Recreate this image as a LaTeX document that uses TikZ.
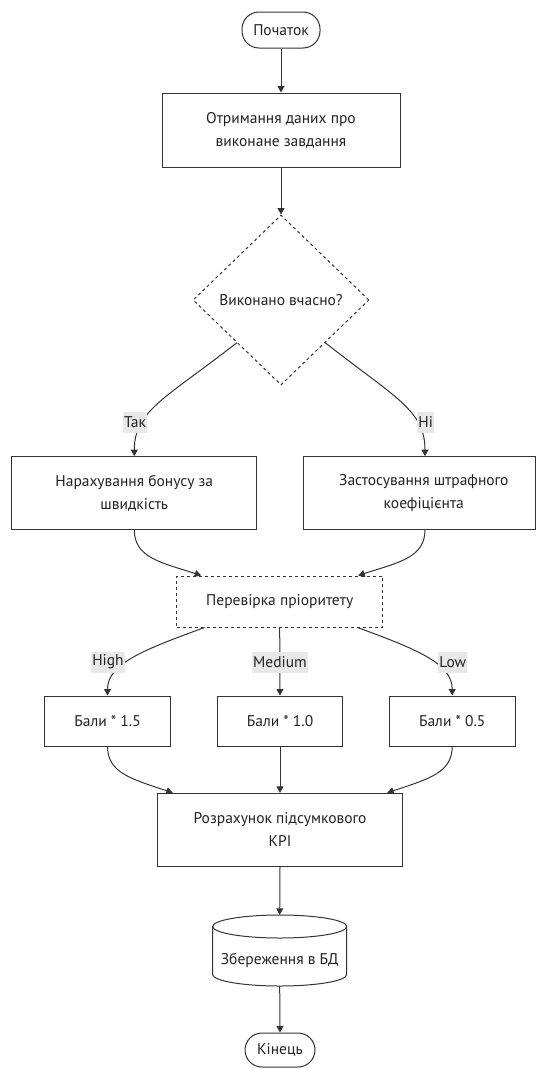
\documentclass[tikz,border=0pt]{standalone}
\usepackage{fontspec}
\setmainfont{PT Sans}
\usetikzlibrary{shapes.geometric,arrows.meta,calc}
\definecolor{ink}{HTML}{333333}
\definecolor{txt}{HTML}{222222}
\definecolor{lbg}{HTML}{E8E8E8}
\begin{document}
\begin{tikzpicture}[x=1pt,y=-1pt,
  every node/.style={font=\fontsize{15.5}{23}\selectfont, text=txt},
  box/.style={draw=ink, line width=1pt, fill=white, rectangle, align=center, inner sep=0pt},
  dbox/.style={box, dash pattern=on 3pt off 3pt},
  term/.style={box, rounded corners=17pt},
  dec/.style={draw=ink, line width=1pt, fill=white, diamond, dash pattern=on 3pt off 3pt,
              inner sep=0pt, minimum width=176pt, minimum height=170pt},
  flow/.style={draw=ink, line width=1pt, -{Triangle[length=6.5pt,width=7pt]}},
  elab/.style={fill=lbg, inner xsep=1pt, inner ysep=0pt, minimum height=21pt},
  cyl/.style={draw=ink, line width=1pt, fill=white}
]
\useasboundingbox (0,0) rectangle (536,1068);

% nodes
\node[term, minimum width=78pt, minimum height=36pt] (start) at (281,30) {Початок};
\node[box, minimum width=238pt, minimum height=74pt] (recv) at (281,130) {Отримання даних про\\виконане завдання};
\node[dec] (dia) at (281,300) {Виконано вчасно?};
\node[box, minimum width=244.7pt, minimum height=72.6pt] (bonus) at (134.3,493) {Нарахування бонусу за\\швидкість};
\node[box, minimum width=232pt, minimum height=72.6pt] (pen) at (419.3,493) {\hspace*{9pt}Застосування штрафного\\\hspace*{9pt}коефіцієнта};
\node[dbox, minimum width=206pt, minimum height=51pt] (prio) at (279.7,601.5) {Перевірка пріоритету};
\node[box, minimum width=126.7pt, minimum height=50pt] (hi) at (107.5,721) {Бали * 1.5};
\node[box, minimum width=125.4pt, minimum height=50pt] (med) at (280,721) {Бали * 1.0};
\node[box, minimum width=125.7pt, minimum height=50pt] (lo) at (452.2,721) {Бали * 0.5};
\node[box, minimum width=245.4pt, minimum height=73.4pt] (kpi) at (280,830) {Розрахунок підсумкового\\KPI};

% database cylinder
\node[minimum width=134pt, minimum height=71pt, inner sep=0pt] (db) at (279.7,950.5) {};
\draw[cyl] (212.7,926.5) -- (212.7,974.5)
  arc[start angle=180, end angle=360, x radius=67pt, y radius=11.5pt]
  -- (346.7,926.5)
  arc[start angle=0, end angle=180, x radius=67pt, y radius=11.5pt] -- cycle;
\draw[draw=ink, line width=1pt] (212.7,926.5)
  arc[start angle=180, end angle=360, x radius=67pt, y radius=11.5pt];
\node (dbt) at (279.7,960) {Збереження в БД};

\node[term, minimum width=70pt, minimum height=34pt] (end) at (280,1050) {Кінець};

% connectors
\draw[flow] (start.south) -- (recv.north);
\draw[flow] (recv.south) -- (dia.north);
\draw[flow] (dia.south west) .. controls +(-70,55) and +(0,-46) .. (bonus.north);
\draw[flow] (dia.south east) .. controls +(70,55) and +(0,-46) .. ($(pen.north)+(5.7,0)$);
\draw[flow] (bonus.south) .. controls +(0,28) and +(-40,-13) .. ($(prio.north west)+(25,0)$);
\draw[flow] ($(pen.south)+(5.7,0)$) .. controls +(0,28) and +(40,-13) .. ($(prio.north east)+(-25,0)$);
\draw[flow] ($(prio.south west)+(28.3,0)$) .. controls +(-60,22) and +(0,-32) .. (hi.north);
\draw[flow] (prio.south) -- (med.north);
\draw[flow] ($(prio.south east)+(-25.7,0)$) .. controls +(60,22) and +(0,-32) .. (lo.north);
\draw[flow] (hi.south) .. controls +(0,26) and +(-42,-14) .. ($(kpi.north west)+(16,0)$);
\draw[flow] (med.south) -- (kpi.north);
\draw[flow] (lo.south) .. controls +(0,26) and +(42,-14) .. ($(kpi.north east)+(-16,0)$);
\draw[flow] (kpi.south) -- (db.north);
\draw[flow] (db.south) -- (end.north);

% edge labels
\node[elab] (lyes) at (135,422.5) {Так};
\node[elab] (lno) at (425.7,422.5) {Ні};
\node[elab] (lhigh) at (108,662) {High};
\node[elab] (lmed) at (280,662) {Medium};
\node[elab] (llow) at (452.8,662) {Low};
\end{tikzpicture}
\end{document}
